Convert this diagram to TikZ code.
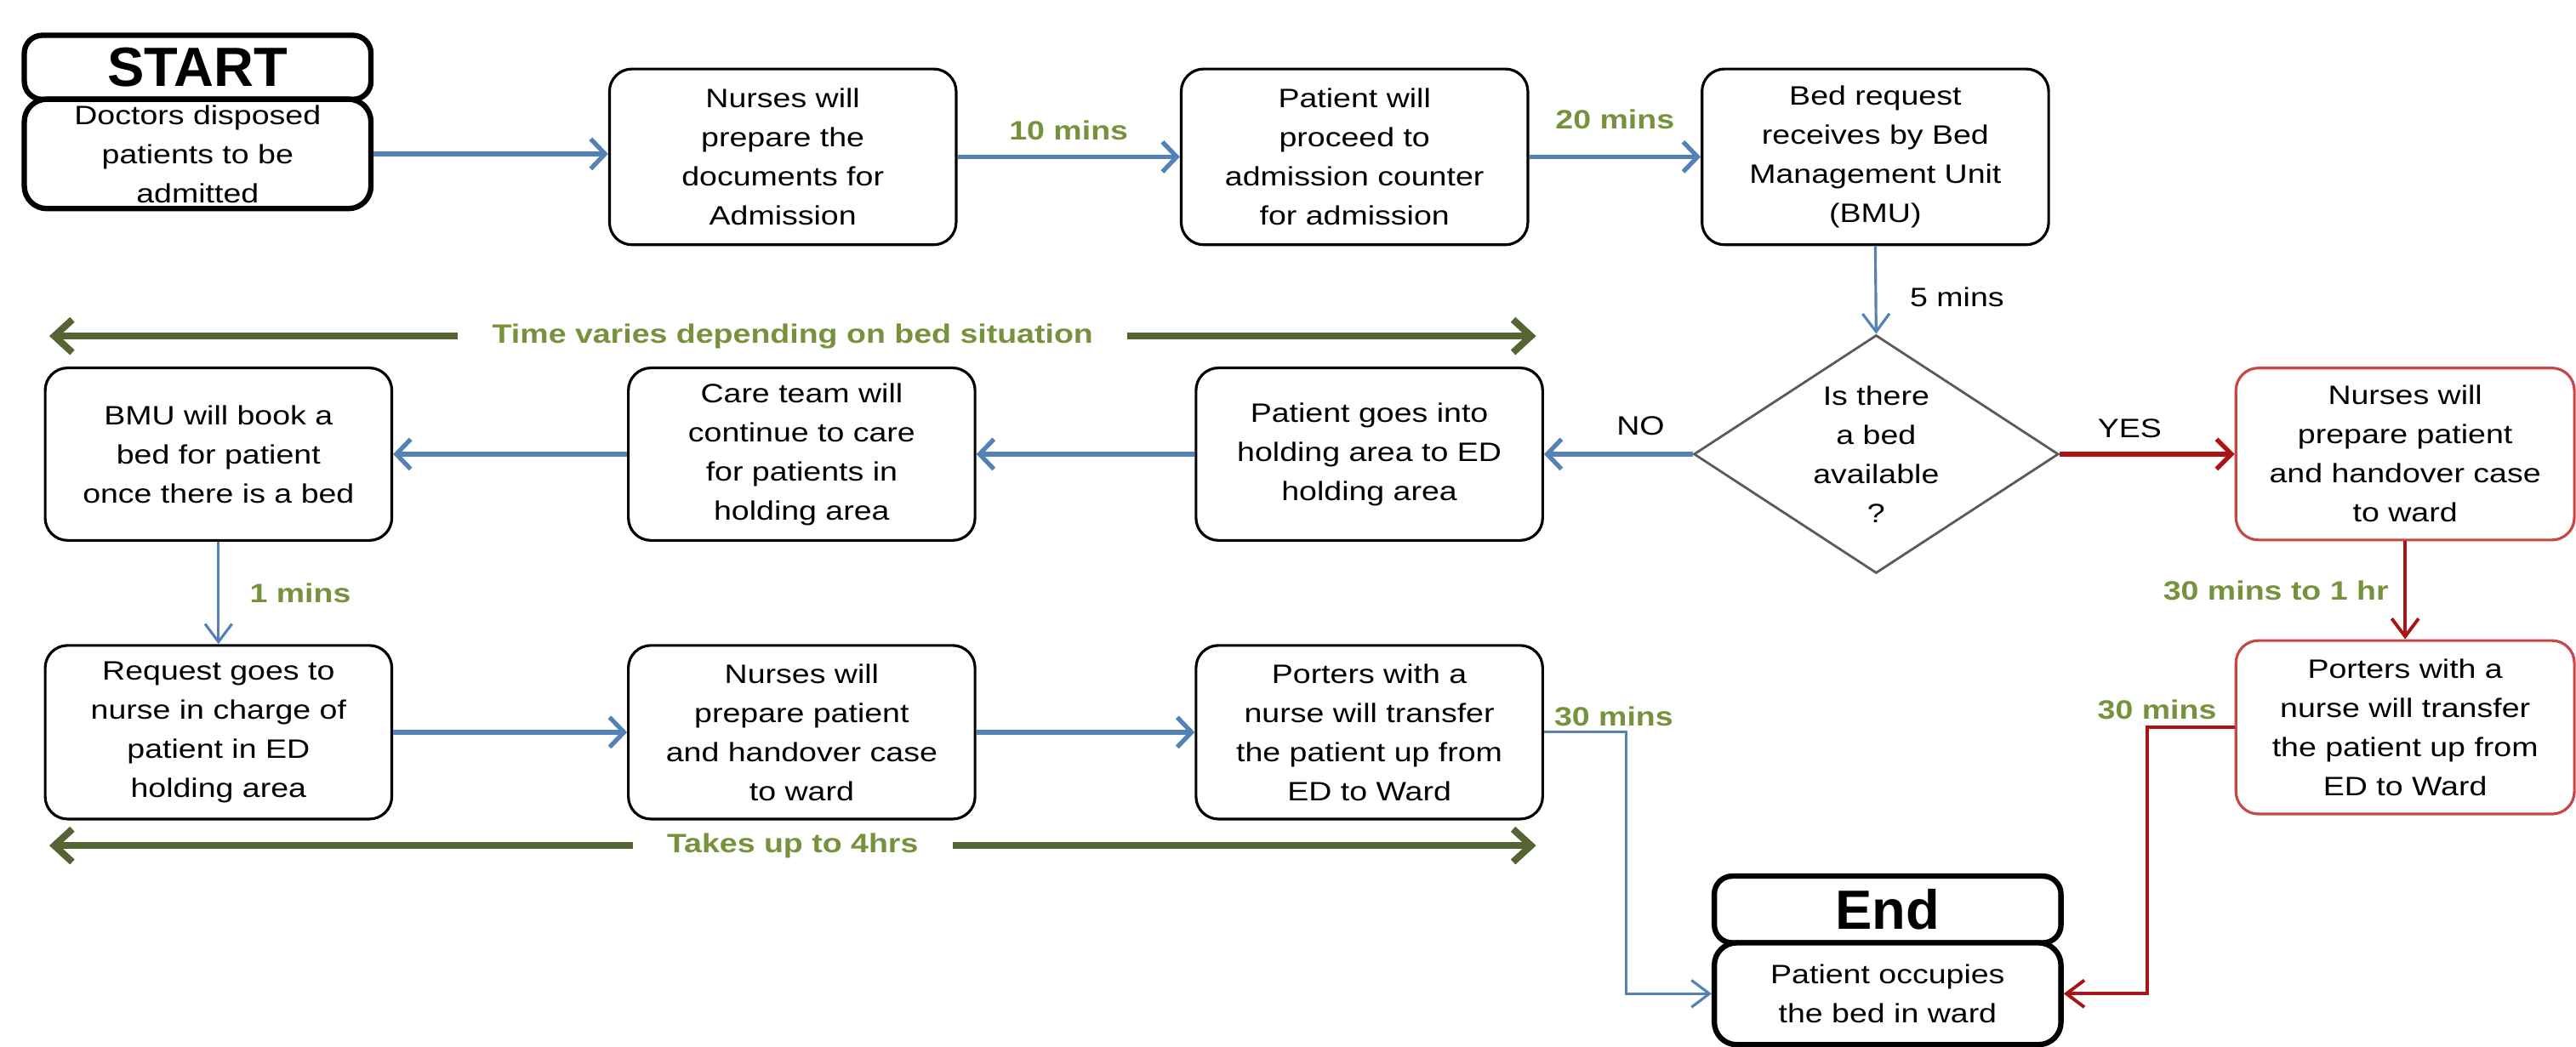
\documentclass[tikz,border=0pt]{standalone}
\usepackage{fontspec}
\setmainfont[FakeStretch=1.2]{Liberation Sans}
\newfontfamily\titlefont{Liberation Sans}
\usetikzlibrary{arrows.meta,shapes.geometric}
\definecolor{flowblue}{RGB}{84,130,180}
\definecolor{flowred}{RGB}{170,20,20}
\definecolor{boxred}{RGB}{200,70,70}
\definecolor{lblgreen}{RGB}{118,146,60}
\definecolor{spanolive}{RGB}{84,100,50}
\definecolor{diagray}{RGB}{90,90,90}
\newdimen\uu \uu=0.01931cm
\begin{document}
\begin{tikzpicture}[x=0.01931cm, y=-0.01931cm,
  every node/.style={font=\fontsize{8.9}{13.1}\selectfont},
  stepbox/.style={draw=black, line width=0.9pt, rounded corners=7.5pt, align=center, inner sep=0pt, minimum width=211\uu, minimum height=105\uu, fill=white},
  redbox/.style={stepbox, draw=boxred, minimum width=206\uu},
  titlebox/.style={draw=black, line width=1.8pt, rounded corners=6pt, inner sep=0pt, minimum width=211\uu, font=\titlefont\bfseries\fontsize{18.5}{20}\selectfont},
  bluearr/.style={draw=flowblue, line width=1.5pt, -{Straight Barb[length=4.8pt,width=10pt]}},
  bluethin/.style={draw=flowblue, line width=0.9pt, -{Straight Barb[length=6pt,width=9pt]}},
  redarr/.style={draw=flowred, line width=1.5pt, -{Straight Barb[length=5pt,width=10pt]}},
  redthin/.style={draw=flowred, line width=1.1pt, -{Straight Barb[length=6pt,width=9pt]}},
  spanarr/.style={draw=spanolive, line width=2.3pt, {Straight Barb[length=6pt,width=11pt]}-{Straight Barb[length=6pt,width=11pt]}},
  glabel/.style={text=lblgreen, font=\fontsize{8.9}{10}\selectfont\bfseries, inner sep=0pt},
  plabel/.style={text=black, inner sep=0pt},
  spanlabel/.style={glabel, fill=white, inner xsep=11.5pt, inner ysep=3pt}]
\useasboundingbox (0,0) rectangle (1568,637);

% start
\node[titlebox, minimum height=39\uu] (start) at (120.3,41) {START};
\node[stepbox, line width=1.8pt, minimum height=66.6\uu] (doc) at (120.3,93.7) {Doctors disposed\\patients to be\\admitted};

% top row
\node[stepbox, minimum height=107\uu] (n1) at (476.5,95.5) {Nurses will\\prepare the\\documents for\\Admission};
\node[stepbox, minimum height=107\uu] (p1) at (824.5,95.5) {Patient will\\proceed to\\admission counter\\for admission};
\node[stepbox, minimum height=107\uu] (b1) at (1141.5,95.5) {Bed request\\receives by Bed\\Management Unit\\(BMU)};

% decision
\node[diamond, draw=diagray, line width=0.8pt, aspect=1.6, inner sep=0pt, minimum width=222\uu, minimum height=145\uu, align=center] (dia) at (1142,276.5) {Is there\\a bed\\available\\?};

% row 2
\node[stepbox] (bmu) at (133,276.5) {BMU will book a\\bed for patient\\once there is a bed};
\node[stepbox] (care) at (488,276.5) {Care team will\\continue to care\\for patients in\\holding area};
\node[stepbox] (pg) at (833.5,276.5) {Patient goes into\\holding area to ED\\holding area};

% row 3
\node[stepbox, minimum height=105.7\uu] (req) at (133,445.8) {Request goes to\\nurse in charge of\\patient in ED\\holding area};
\node[stepbox, minimum height=105.7\uu] (nur2) at (488,445.8) {Nurses will\\prepare patient\\and handover case\\to ward};
\node[stepbox, minimum height=105.7\uu] (por) at (833.5,445.8) {Porters with a\\nurse will transfer\\the patient up from\\ED to Ward};

% red branch
\node[redbox, minimum height=104.7\uu] (r1) at (1464,276.4) {Nurses will\\prepare patient\\and handover case\\to ward};
\node[redbox, minimum height=105.6\uu] (r2) at (1464,442.8) {Porters with a\\nurse will transfer\\the patient up from\\ED to Ward};

% end
\node[titlebox, minimum height=40.6\uu] (endt) at (1149,553.7) {End};
\node[stepbox, line width=1.8pt, minimum height=62\uu] (endb) at (1149,605) {Patient occupies\\the bed in ward};

% helper coordinates
\coordinate (bj) at (990,0);
\coordinate (rj) at (1307,0);
\coordinate (t1) at (30,204.6);
\coordinate (t2) at (935,204.6);
\coordinate (u1) at (30,514.8);
\coordinate (u2) at (935,514.8);

% connectors
\draw[bluearr] (doc.east) -- (doc.east -| n1.west);
\draw[bluearr] (n1.east) -- node[glabel, above=4.8pt]{10 mins} (p1.west);
\draw[bluearr] (p1.east) -- node[glabel, above=8.5pt]{20 mins} (b1.west);
\draw[bluethin] (b1.south) -- node[plabel, right=11pt, pos=0.58]{5 mins} (dia.north);
\draw[bluearr] (dia.west) -- node[plabel, above=5.5pt, pos=0.35]{NO} (dia.west -| pg.east);
\draw[redarr] (dia.east) -- node[plabel, above=4.8pt, pos=0.4]{YES} (dia.east -| r1.west);
\draw[bluearr] (pg.west) -- (care.east);
\draw[bluearr] (care.west) -- (bmu.east);
\draw[bluethin] (bmu.south) -- node[glabel, right=10pt]{1 mins} (req.north);
\draw[bluearr] (req.east) -- (nur2.west);
\draw[bluearr] (nur2.east) -- (por.west);
\draw[bluethin] (por.east) -- node[glabel, pos=0, anchor=south west, xshift=3pt, yshift=1.5pt]{30 mins} (por.east -| bj) |- (endb.west);
\draw[redthin] (r1.south) -- node[glabel, left=5pt]{30 mins to 1 hr} (r2.north);
\draw[redthin] (r2.west) -- node[glabel, pos=0, anchor=south east, xshift=-5.5pt, yshift=2pt]{30 mins} (r2.west -| rj) |- (endb.east);
\draw[spanarr] (t1) -- node[spanlabel]{Time varies depending on bed situation} (t2);
\draw[spanarr] (u1) -- node[spanlabel]{Takes up to 4hrs} (u2);
\end{tikzpicture}
\end{document}
